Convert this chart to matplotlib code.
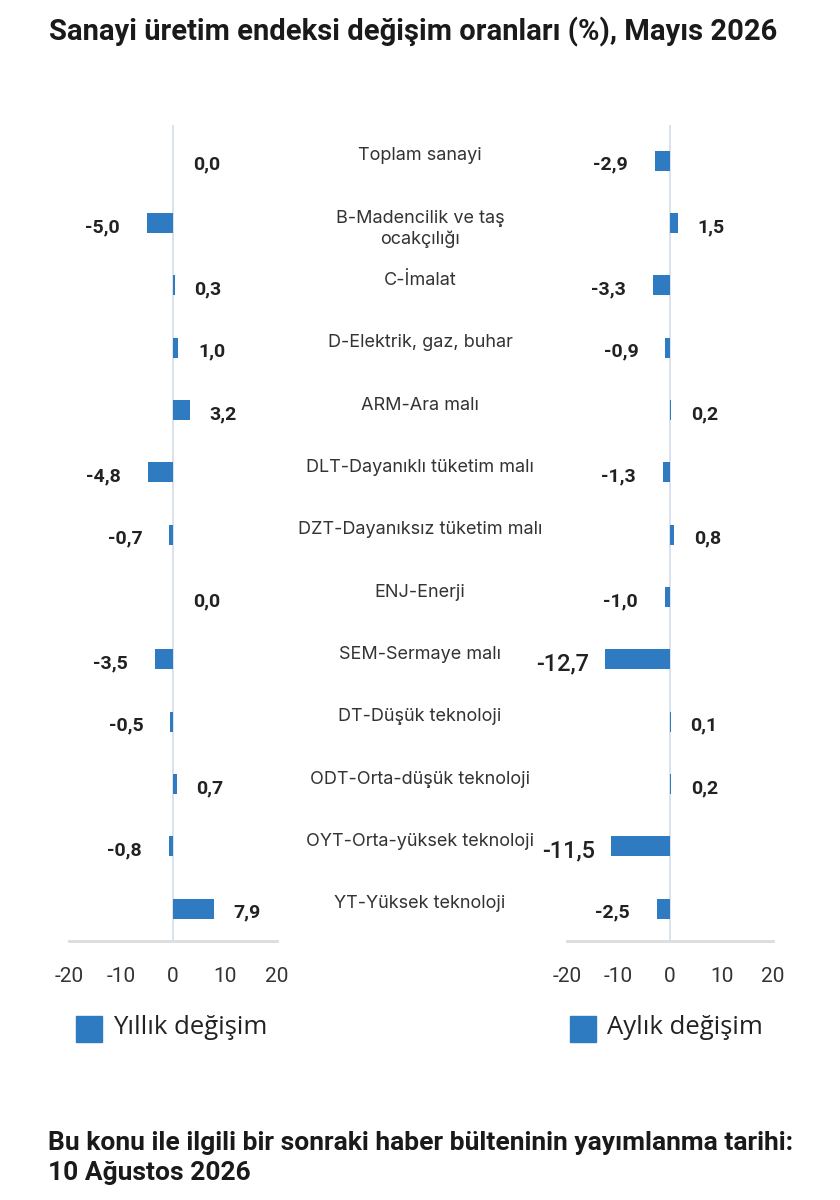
import matplotlib
matplotlib.use("Agg")
import matplotlib.pyplot as plt
from matplotlib.patches import Rectangle
from matplotlib.transforms import blended_transform_factory

categories = [
    "Toplam sanayi",
    "B-Madencilik ve taş\nocakçılığı",
    "C-İmalat",
    "D-Elektrik, gaz, buhar",
    "ARM-Ara malı",
    "DLT-Dayanıklı tüketim malı",
    "DZT-Dayanıksız tüketim malı",
    "ENJ-Enerji",
    "SEM-Sermaye malı",
    "DT-Düşük teknoloji",
    "ODT-Orta-düşük teknoloji",
    "OYT-Orta-yüksek teknoloji",
    "YT-Yüksek teknoloji",
]
yillik = [0.0, -5.0, 0.3, 1.0, 3.2, -4.8, -0.7, 0.0, -3.5, -0.5, 0.7, -0.8, 7.9]
aylik = [-2.9, 1.5, -3.3, -0.9, 0.2, -1.3, 0.8, -1.0, -12.7, 0.1, 0.2, -11.5, -2.5]
xticks = [-20, -10, 0, 10, 20]

title = "Sanayi üretim endeksi değişim oranları (%), Mayıs 2026"
footer = "Bu konu ile ilgili bir sonraki haber bülteninin yayımlanma tarihi:\n10 Ağustos 2026"

W, H = 840, 1200
bar_color = "#2f7bc2"
fig = plt.figure(figsize=(W / 100, H / 100), dpi=100)


def px_axes(x0, x1, y0, y1):
    return fig.add_axes([x0 / W, 1 - y1 / H, (x1 - x0) / W, (y1 - y0) / H])


def draw_panel(ax, values):
    n = len(values)
    ax.barh(range(n), values, height=0.32, color=bar_color, zorder=3)
    ax.set_xlim(-20, 20)
    ax.set_ylim(n - 0.48, -0.57)
    ax.axvline(0, color="#d3deea", lw=1.2, zorder=1)
    for s in ["top", "right", "left"]:
        ax.spines[s].set_visible(False)
    ax.spines["bottom"].set_color("#dcdcdc")
    ax.spines["bottom"].set_linewidth(2)
    ax.set_yticks([])
    ax.set_xticks(xticks)
    ax.set_xticklabels([str(t) for t in xticks])
    ax.tick_params(axis="x", length=0, pad=19, labelsize=15, labelcolor="#333333")
    for lab in ax.get_xticklabels():
        lab.set_fontfamily("Roboto")
    for i, v in enumerate(values):
        txt = f"{v:.1f}".replace(".", ",")
        big = abs(v) > 10
        if v < 0:
            dx = -32 if not big else -30
        else:
            dx = 24
        ax.annotate(txt, (v, i), xytext=(dx, -3), textcoords="offset points",
                    ha="center", va="center",
                    fontsize=17 if big else 14,
                    fontweight="medium" if big else "bold",
                    family="Roboto", color="#222222")


axL = px_axes(69, 277, 125, 941)
axR = px_axes(567, 773, 125, 941)
draw_panel(axL, yillik)
draw_panel(axR, aylik)

# category labels in the middle
tr = blended_transform_factory(fig.transFigure, axL.transData)
for i, c in enumerate(categories):
    fig.text(420 / W, i - 0.21, c, transform=tr, ha="center", va="top",
             fontsize=13, family="Inter", color="#333333", linespacing=1.3)

fig.text(413 / W, 1 - 32 / H, title, ha="center", va="center",
         fontsize=21, fontweight="bold", family="Roboto", color="#1a1a1a")

# legends
for x0, label in [(76, "Yıllık değişim"), (570, "Aylık değişim")]:
    fig.patches.append(Rectangle((x0 / W, 1 - 1042 / H), 26 / W, 26 / H,
                                 transform=fig.transFigure, color=bar_color))
    fig.text((x0 + 37) / W, 1 - 1028 / H, label, ha="left", va="center",
             fontsize=18.5, family="Open Sans", color="#222222")

fig.text(48 / W, 1 - 1158 / H, footer, ha="left", va="center",
         fontsize=19, fontweight="bold", family="Roboto", color="#1a1a1a",
         linespacing=1.3)

fig.savefig("out.png", dpi=100, facecolor="white")
